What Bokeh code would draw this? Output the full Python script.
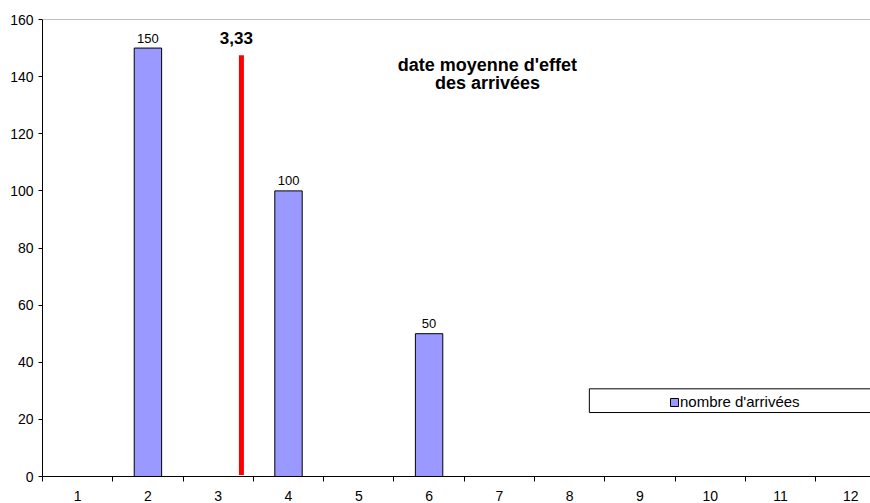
from bokeh.plotting import figure
from bokeh.models import (FixedTicker, Span, Legend, LegendItem, BoxAnnotation,
                          Range1d, ColumnDataSource)
from bokeh.core.properties import value
from bokeh.embed import file_html
from bokeh.resources import INLINE

# ---- data ----
categories = [1, 2, 3, 4, 5, 6, 7, 8, 9, 10, 11, 12]
arrivals = [0, 150, 0, 100, 0, 50, 0, 0, 0, 0, 0, 0]
mean_date = 3.33
mean_label = "3,33"
mean_line_bottom = 0.5
mean_line_top = 147.5
note_lines = ["date moyenne d'effet", "des arrivées"]
note_x = 6.83
note_y = [143.9, 137.6]
legend_label = "nombre d'arrivées"
y_ticks = [0, 20, 40, 60, 80, 100, 120, 140, 160]

FONT = "Liberation Sans"

bx = [c for c, v in zip(categories, arrivals) if v > 0]
bv = [v for v in arrivals if v > 0]
src = ColumnDataSource(dict(x=bx, top=bv, lab=[str(v) for v in bv]))

p = figure(width=870, height=503, output_backend="svg", toolbar_location=None,
           x_range=Range1d(0.5, 12.28), y_range=Range1d(0, 160),
           min_border_left=42, min_border_right=0, min_border_top=19,
           min_border_bottom=26)
p.outline_line_color = None
p.xgrid.visible = False
p.ygrid.visible = False
p.background_fill_color = "white"
p.border_fill_color = "white"

# top border of plot area
p.add_layout(Span(location=160, dimension="width", line_color="#808080", line_width=1))

bars = p.vbar(x="x", top="top", width=0.39, fill_color="#9999FF",
              line_color="black", line_width=1, source=src)
p.text(x="x", y="top", text="lab", source=src, text_align="center",
       text_baseline="alphabetic", y_offset=-10, text_font=value(FONT),
       text_font_size="13px", text_color="black")

# mean date line
p.segment(x0=[mean_date], y0=[mean_line_bottom], x1=[mean_date], y1=[mean_line_top],
          line_color="#FF0000", line_width=5)
p.text(x=[mean_date], y=[mean_line_top], text=[mean_label], text_align="center",
       text_baseline="alphabetic", x_offset=-5, y_offset=-17, text_font=value(FONT),
       text_font_size="17px", text_font_style="bold", text_color="black")

for t, yy in zip(note_lines, note_y):
    p.text(x=[note_x], y=[yy], text=[t], text_align="center", text_baseline="middle",
           text_font=value(FONT), text_font_size="18px", text_font_style="bold",
           text_color="black")

# axes
p.yaxis.ticker = FixedTicker(ticks=y_ticks)
p.yaxis.major_tick_out = 4
p.yaxis.major_tick_in = 0
p.yaxis.minor_tick_line_color = None
p.yaxis.axis_line_color = "black"
p.yaxis.major_tick_line_color = "black"
p.yaxis.major_label_standoff = 5
p.yaxis.major_label_text_font = FONT
p.yaxis.major_label_text_font_size = "14px"
p.yaxis.major_label_text_color = "black"

p.xaxis.ticker = FixedTicker(ticks=categories,
                             minor_ticks=[c - 0.5 for c in categories] + [categories[-1] + 0.5])
p.xaxis.major_tick_out = 0
p.xaxis.major_tick_in = 0
p.xaxis.minor_tick_out = 5
p.xaxis.minor_tick_in = 0
p.xaxis.minor_tick_line_color = "black"
p.xaxis.axis_line_color = "black"
p.xaxis.major_label_standoff = 9
p.xaxis.major_label_text_font = FONT
p.xaxis.major_label_text_font_size = "14px"
p.xaxis.major_label_text_color = "black"

# legend
p.add_layout(BoxAnnotation(left=8.28, right=13, bottom=22.4, top=30.7,
                           fill_color="white", fill_alpha=1,
                           line_color="black", line_alpha=1, line_width=1))
legend = Legend(items=[LegendItem(label=legend_label, renderers=[bars])],
                location=(627, 66), border_line_color=None,
                background_fill_alpha=0, padding=2, margin=0,
                glyph_width=10, glyph_height=10, label_standoff=1,
                label_height=10, label_text_font=FONT,
                label_text_font_size="15px", label_text_color="black")
p.add_layout(legend)

open("out.html", "w").write(file_html(p, INLINE))
